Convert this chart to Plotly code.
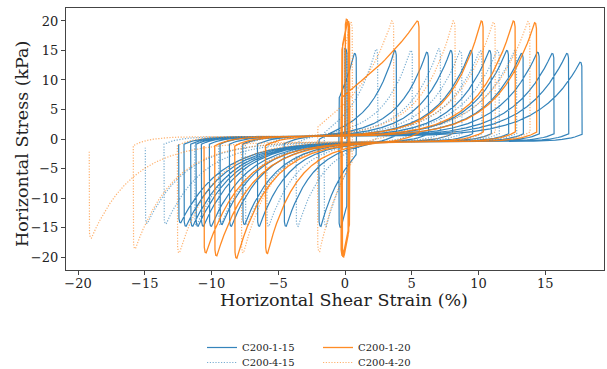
import numpy as np
import plotly.graph_objects as go

# ---------------- data ----------------
# C200-1-15 (solid blue)
strain_pos_1_15 = [0.0, 0.7, 3.7, 6.1, 7.9, 9.4, 10.8, 12.1, 13.2, 14.4, 15.5, 16.6, 17.6]
stress_pos_1_15 = [15.3, 14.5, 15.0, 14.7, 15.0, 15.0, 15.0, 15.0, 14.5, 14.7, 14.5, 14.5, 13.0]
strain_neg_1_15 = [-0.3, -1.8, -4.4, -6.4, -7.5, -8.5, -9.2, -10.0, -10.6, -11.0, -11.4, -11.9, -12.3]
stress_neg_1_15 = [-15.0, -14.8, -14.8, -14.8, -14.5, -14.8, -14.5, -14.8, -14.8, -14.8, -14.8, -14.8, -14.2]

# C200-4-15 (dotted blue)
strain_pos_4_15 = [0.0, 2.3, 4.9, 7.0, 8.6, 10.1, 11.4, 12.7]
stress_pos_4_15 = [15.3, 15.2, 15.0, 15.3, 14.9, 15.0, 15.0, 15.0]
strain_neg_4_15 = [-1.4, -3.5, -5.7, -7.3, -9.3, -11.1, -13.4, -14.8]
stress_neg_4_15 = [-14.8, -14.8, -14.8, -14.6, -14.6, -14.6, -14.4, -14.3]

# C200-1-20 (solid orange)
strain_pos_1_20 = [0.1, 0.15, 0.2, 5.4, 10.2, 12.6, 14.2]
stress_pos_1_20 = [20.3, 19.8, 20.0, 20.0, 20.0, 20.0, 19.7]
strain_neg_1_20 = [-0.05, -0.1, -0.15, -5.8, -8.1, -9.6, -10.4]
stress_neg_1_20 = [-19.6, -20.0, -19.8, -19.4, -20.2, -19.8, -19.3]

# C200-4-20 (dotted orange)
strain_pos_4_20 = [0.4, 3.5, 8.1, 11.1, 13.7]
stress_pos_4_20 = [19.8, 20.0, 20.0, 19.8, 19.9]
strain_neg_4_20 = [-1.9, -7.6, -12.4, -15.7, -19.0]
stress_neg_4_20 = [-19.1, -19.3, -19.3, -18.6, -16.8]

# final unloading stress of each test
end_stress = {"C200-1-15": -0.9, "C200-4-15": -1.5, "C200-1-20": -1.2, "C200-4-20": -2.0}
# first-loading curves that rise more gradually (series -> {positive-peak index: rise width in %})
first_rise_width = {"C200-1-20": {3: 6.5}, "C200-4-20": {1: 3.2}}

x_ticks = [-20, -15, -10, -5, 0, 5, 10, 15]
y_ticks = [-20, -15, -10, -5, 0, 5, 10, 15, 20]
x_title = "Horizontal Shear Strain (%)"
y_title = "Horizontal Stress (kPa)"

# ---------------- loop geometry (shape of a stress-controlled cycle) ----------------
D_PEAK = [0, 0.04, 0.1, 0.18, 0.28, 0.4, 0.55, 0.72, 0.92, 1.15, 1.4, 1.7, 2.05,
          2.45, 2.9, 3.4, 4.0, 4.7, 5.5, 6.5, 8.0]
D_START = [0, 0.03, 0.1, 0.2, 0.35, 0.55, 0.8, 1.1, 1.5, 2.0, 2.6, 3.3, 4.2, 5.3]
C_BASE = 0.4
L_BASE = 1.2


def branch(x0, y0, xp, P, sign, w=None):
    """strain path from x0 (stress y0 after unloading) to the peak (xp, P)."""
    span = abs(xp - x0)
    if w is None:
        w = 1.8 + 0.05 * span
    d_pk = np.array(D_PEAK) * w
    d_st = np.array(D_START)
    pts = np.concatenate([span - d_pk, d_st])
    pts = np.unique(pts[(pts >= 0) & (pts <= span)])
    xs = x0 + sign * pts
    base = sign * C_BASE - (sign * C_BASE - y0) * np.exp(-pts / L_BASE)
    e = np.exp(-1.1 * (span - pts) / w)
    ys = P * e + base * (1 - e)
    return list(xs), list(ys)


def build(pos_x, pos_y, neg_x, neg_y, y_end, widths):
    X, Y = [0.0], [0.0]
    cur_x, cur_y = 0.0, 0.0
    for i in range(len(pos_x)):
        xp, P = pos_x[i], pos_y[i]
        bx, by = branch(cur_x, cur_y, xp, P, +1, widths.get(i))
        X += bx
        Y += by
        r = 0.06 * abs(P)
        X += [xp + 0.08, xp + 0.14, xp + 0.16]
        Y += [0.995 * P, 0.95 * P, r]
        cur_x, cur_y = xp + 0.16, r
        if i < len(neg_x):
            xn, Pn = neg_x[i], neg_y[i]
            bx, by = branch(cur_x, cur_y, xn, Pn, -1)
            X += bx
            Y += by
            rn = -0.06 * abs(Pn)
            X += [xn - 0.08, xn - 0.14, xn - 0.16]
            Y += [0.995 * Pn, 0.95 * Pn, rn]
            cur_x, cur_y = xn - 0.16, rn
    Y[-1] = y_end
    return X, Y


BLUE = "#1f77b4"
ORANGE = "#ff7f0e"
DOT = "1.2px,1.6px"

# plot area in pixels
W, H = 607, 369
PLOT_TOP, PLOT_BOTTOM, PLOT_LEFT, PLOT_RIGHT = 8, 270, 66, 604
PH, PW = PLOT_BOTTOM - PLOT_TOP, PLOT_RIGHT - PLOT_LEFT

series = [
    # name, data, colour, dash, opacity, width, legend
    ("C200-4-15", (strain_pos_4_15, stress_pos_4_15, strain_neg_4_15, stress_neg_4_15), BLUE, DOT, 0.6, 1.2, "legend3"),
    ("C200-1-15", (strain_pos_1_15, stress_pos_1_15, strain_neg_1_15, stress_neg_1_15), BLUE, "solid", 0.9, 1.2, "legend"),
    ("C200-4-20", (strain_pos_4_20, stress_pos_4_20, strain_neg_4_20, stress_neg_4_20), ORANGE, DOT, 0.6, 1.2, "legend4"),
    ("C200-1-20", (strain_pos_1_20, stress_pos_1_20, strain_neg_1_20, stress_neg_1_20), ORANGE, "solid", 0.9, 1.3, "legend2"),
]

fig = go.Figure()
for name, (px, py, nx, ny), col, dash, op, wd, leg in series:
    X, Y = build(px, py, nx, ny, end_stress[name], first_rise_width.get(name, {}))
    fig.add_trace(go.Scatter(x=X, y=Y, mode="lines", name=name,
                             line=dict(color=col, width=wd, dash=dash),
                             opacity=op, legend=leg, showlegend=True,
                             hoverinfo="skip"))

FONT = "DejaVu Serif"
axis_common = dict(showgrid=False, zeroline=False, showline=True, mirror=True,
                   linecolor="#444", linewidth=1.2, ticks="outside", ticklen=4,
                   tickcolor="#444", automargin=False,
                   tickfont=dict(family=FONT, size=13, color="#222"))


def legend_at(x_px, row_px):
    top_px = row_px - 14
    return dict(x=(x_px - PLOT_LEFT) / PW, xanchor="left",
                y=-(top_px - PLOT_BOTTOM) / PH, yanchor="top",
                font=dict(family=FONT, size=10, color="#222"),
                bgcolor="rgba(0,0,0,0)", itemwidth=30, tracegroupgap=0,
                visible=True)


fig.update_layout(
    width=W, height=H,
    margin=dict(l=PLOT_LEFT, r=W - PLOT_RIGHT, t=PLOT_TOP, b=H - PLOT_BOTTOM, autoexpand=False),
    paper_bgcolor="white", plot_bgcolor="white",
    font=dict(family=FONT, color="#222"),
    showlegend=True,
    xaxis=dict(range=[-20.9, 19.4], tickvals=x_ticks, ticklabelstandoff=-3, **axis_common),
    yaxis=dict(range=[-22.2, 22.2], tickvals=y_ticks, **axis_common),
    legend=legend_at(202, 347),
    legend2=legend_at(318, 347),
    legend3=legend_at(202, 362),
    legend4=legend_at(318, 362),
    annotations=[
        dict(text=x_title, xref="paper", yref="paper",
             x=(344 - PLOT_LEFT) / PW, y=-(300 - PLOT_BOTTOM) / PH,
             xanchor="center", yanchor="middle", showarrow=False,
             font=dict(family=FONT, size=17.5, color="#222")),
        dict(text=y_title, xref="paper", yref="paper", textangle=-90,
             x=-(PLOT_LEFT - 22) / PW, y=(PLOT_BOTTOM - 144) / PH,
             xanchor="center", yanchor="middle", showarrow=False,
             font=dict(family=FONT, size=17.5, color="#222")),
    ],
)

fig.write_html("out.html", config={"displayModeBar": False},
               post_script="document.body.style.margin='0';")
